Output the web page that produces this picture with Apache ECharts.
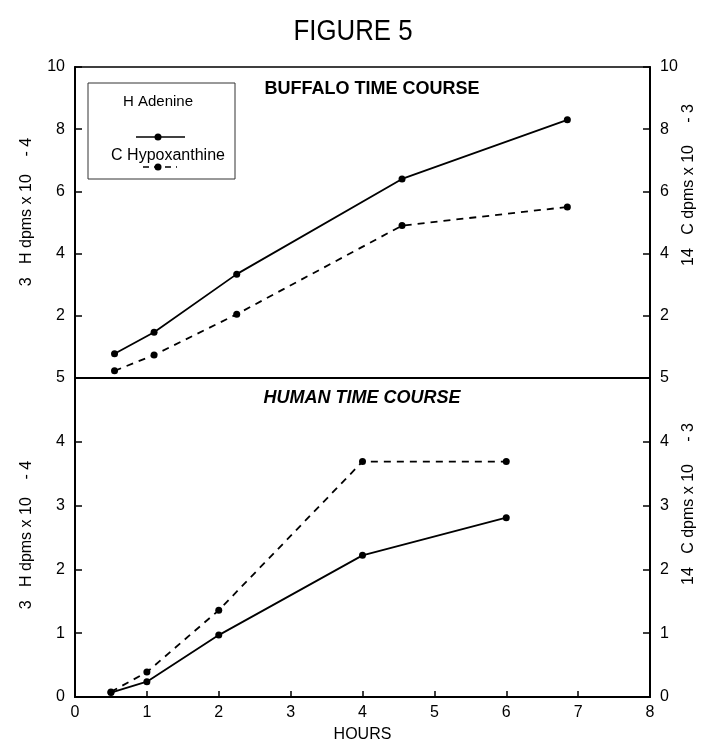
<!DOCTYPE html>
<html>
<head>
<meta charset="utf-8">
<script src="https://cdn.jsdelivr.net/npm/echarts@6/dist/echarts.min.js"></script>
<style>
  html, body { margin: 0; padding: 0; background: #fff; }
  #chart { width: 703px; height: 743px; }
</style>
</head>
<body>
<div id="chart"></div>
<script>
// Buffalo time course (upper panel)
const buffaloHours = [0.55, 1.1, 2.25, 4.55, 6.85];
const buffaloAdenine = [0.78, 1.47, 3.34, 6.4, 8.3];        // 3H dpms x 10^-4
const buffaloHypoxanthine = [0.23, 0.74, 2.05, 4.9, 5.5];   // 14C dpms x 10^-3

// Human time course (lower panel)
const humanHours = [0.5, 1, 2, 4, 6];
const humanAdenine = [0.07, 0.24, 0.97, 2.22, 2.81];
const humanHypoxanthine = [0.08, 0.39, 1.36, 3.69, 3.69];

const seriesNames = ['H Adenine', 'C Hypoxanthine'];
const panelTitles = ['BUFFALO TIME COURSE', 'HUMAN TIME COURSE'];
const leftAxisTitle = '3   H dpms x 10    - 4';
const rightAxisTitle = '14   C dpms x 10     - 3';

const FONT = '"Liberation Sans", Arial, Helvetica, sans-serif';
const INK = '#000';

const pairs = (xs, ys) => xs.map((x, i) => [x, ys[i]]);

const chart = echarts.init(document.getElementById('chart'), null, { renderer: 'canvas' });

const tickLabel = { color: INK, fontSize: 16, fontFamily: FONT };

function yAxis(gridIndex, position, max, interval, hideZero) {
  return {
    type: 'value', gridIndex, position, min: 0, max, interval,
    axisLine: { show: true, lineStyle: { color: INK, width: 2 } },
    axisTick: { show: true, inside: true, length: 7, lineStyle: { color: INK, width: 1.5 } },
    axisLabel: Object.assign({ margin: 10, formatter: v => (hideZero && v === 0) ? '' : String(v) }, tickLabel),
    splitLine: { show: false }
  };
}

function lineSeries(name, data, xAxisIndex, yAxisIndex, dashed) {
  return {
    name, type: 'line', xAxisIndex, yAxisIndex, data,
    symbol: 'circle', symbolSize: 7,
    itemStyle: { color: INK },
    lineStyle: { color: INK, width: 1.8, type: dashed ? [7, 6] : 'solid' },
    animation: false
  };
}

function axisTitle(text, x, y) {
  return {
    type: 'text', x, y, rotation: Math.PI / 2,
    style: { text, fill: INK, font: '16px ' + FONT, align: 'center', verticalAlign: 'middle' }
  };
}

chart.setOption({
  backgroundColor: '#fff',
  animation: false,
  grid: [
    { left: 75, right: 53, top: 67, height: 311, show: true, borderColor: INK, borderWidth: 1.5, outerBoundsMode: 'none', containLabel: false },
    { left: 75, right: 53, top: 378, height: 319, show: true, borderColor: INK, borderWidth: 1.5, outerBoundsMode: 'none', containLabel: false }
  ],
  xAxis: [
    {
      type: 'value', gridIndex: 0, min: 0, max: 8, interval: 1,
      axisLine: { show: true, lineStyle: { color: INK, width: 2 } },
      axisTick: { show: false }, axisLabel: { show: false }, splitLine: { show: false }
    },
    {
      type: 'value', gridIndex: 1, min: 0, max: 8, interval: 1,
      axisLine: { show: true, lineStyle: { color: INK, width: 2 } },
      axisTick: { show: true, inside: true, length: 6, lineStyle: { color: INK, width: 1.5 } },
      axisLabel: Object.assign({ margin: 8 }, tickLabel),
      splitLine: { show: false },
      name: 'HOURS', nameLocation: 'middle', nameGap: 30,
      nameTextStyle: { color: INK, fontSize: 16, fontFamily: FONT }
    }
  ],
  yAxis: [
    yAxis(0, 'left', 10, 2, true),
    yAxis(0, 'right', 10, 2, true),
    yAxis(1, 'left', 5, 1, false),
    yAxis(1, 'right', 5, 1, false)
  ],
  series: [
    lineSeries(seriesNames[0], pairs(buffaloHours, buffaloAdenine), 0, 0, false),
    lineSeries(seriesNames[1], pairs(buffaloHours, buffaloHypoxanthine), 0, 1, true),
    lineSeries(seriesNames[0], pairs(humanHours, humanAdenine), 1, 2, false),
    lineSeries(seriesNames[1], pairs(humanHours, humanHypoxanthine), 1, 3, true)
  ],
  graphic: [
    {
      type: 'text', x: 353, y: 32, scaleX: 0.86,
      style: { text: 'FIGURE 5', fill: INK, font: '30px ' + FONT, align: 'center', verticalAlign: 'middle' }
    },
    {
      type: 'text', x: 372, y: 89,
      style: { text: panelTitles[0], fill: INK, font: 'bold 18px ' + FONT, align: 'center', verticalAlign: 'middle' }
    },
    {
      type: 'text', x: 362, y: 398,
      style: { text: panelTitles[1], fill: INK, font: 'italic bold 18px ' + FONT, align: 'center', verticalAlign: 'middle' }
    },
    axisTitle(leftAxisTitle, 27, 212),
    axisTitle(leftAxisTitle, 27, 535),
    axisTitle(rightAxisTitle, 689, 185),
    axisTitle(rightAxisTitle, 689, 504),
    // legend box
    {
      type: 'group', x: 88, y: 83,
      children: [
        { type: 'rect', shape: { x: 0, y: 0, width: 147, height: 96 }, style: { fill: 'none', stroke: '#333', lineWidth: 1 } },
        { type: 'text', x: 70, y: 19, style: { text: seriesNames[0], fill: INK, font: '15px ' + FONT, align: 'center', verticalAlign: 'middle' } },
        { type: 'line', shape: { x1: 48, y1: 54, x2: 97, y2: 54 }, style: { stroke: INK, lineWidth: 1.5 } },
        { type: 'circle', shape: { cx: 70, cy: 54, r: 3.5 }, style: { fill: INK } },
        { type: 'text', x: 80, y: 73, style: { text: seriesNames[1], fill: INK, font: '16px ' + FONT, align: 'center', verticalAlign: 'middle' } },
        { type: 'line', shape: { x1: 55, y1: 84, x2: 89, y2: 84 }, style: { stroke: INK, lineWidth: 1.5, lineDash: [6, 5] } },
        { type: 'circle', shape: { cx: 70, cy: 84, r: 3.5 }, style: { fill: INK } }
      ]
    }
  ]
});
</script>
</body>
</html>
